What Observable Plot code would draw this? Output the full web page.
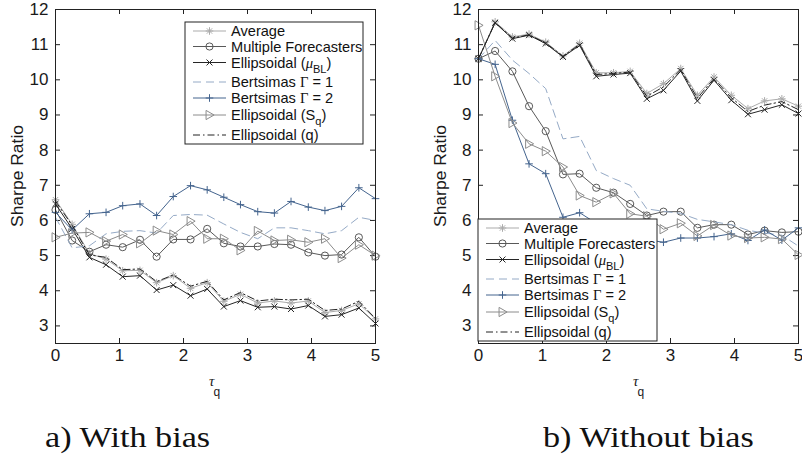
<!DOCTYPE html>
<html><head><meta charset="utf-8">
<script src="https://cdn.jsdelivr.net/npm/d3@7"></script>
<script src="https://cdn.jsdelivr.net/npm/@observablehq/plot@0.6"></script>
<style>
body{margin:0;background:#fff;}
#wrap{position:relative;width:802px;height:466px;overflow:hidden;background:#fff;}
.panel{position:absolute;top:0;}
.cap{position:absolute;top:422px;font-family:"Liberation Serif","Times New Roman",serif;font-size:30px;line-height:30px;color:#111;white-space:nowrap;transform-origin:left top;transform:scaleX(1.14);}
</style></head><body><div id="wrap"></div>
<script>
// ---------- data ----------
const tau = [0, 0.26, 0.53, 0.79, 1.05, 1.32, 1.58, 1.84, 2.11, 2.37, 2.63, 2.89, 3.16, 3.42, 3.68, 3.95, 4.21, 4.47, 4.74, 5];
const xTicks = [0, 1, 2, 3, 4, 5];
const yTicks = [3, 4, 5, 6, 7, 8, 9, 10, 11, 12];
const seriesNames = ["Average", "Multiple Forecasters", "Ellipsoidal (μBL)", "Bertsimas Γ = 1", "Bertsimas Γ = 2", "Ellipsoidal (Sq)", "Ellipsoidal (q)"];
const captions = ["a) With bias", "b) Without bias"];

// a) With bias
const biasAverage  = [6.59, 5.89, 5.06, 4.90, 4.57, 4.58, 4.23, 4.43, 4.07, 4.23, 3.70, 3.90, 3.65, 3.71, 3.65, 3.71, 3.38, 3.44, 3.63, 3.20];
const biasMultiple = [6.30, 5.43, 5.11, 5.31, 5.24, 5.45, 4.97, 5.46, 5.46, 5.76, 5.35, 5.26, 5.26, 5.33, 5.31, 5.09, 5.00, 5.03, 5.52, 4.97];
const biasMuBL     = [6.47, 5.76, 4.95, 4.74, 4.40, 4.43, 4.02, 4.16, 3.86, 4.05, 3.55, 3.72, 3.53, 3.55, 3.48, 3.58, 3.27, 3.32, 3.51, 3.07];
const biasGamma1   = [6.09, 5.22, 5.28, 5.62, 5.69, 5.71, 5.64, 6.14, 6.17, 6.15, 5.90, 5.66, 5.48, 5.79, 5.79, 5.71, 5.62, 5.71, 6.09, 6.00];
const biasGamma2   = [6.23, 5.73, 6.19, 6.23, 6.42, 6.47, 6.14, 6.68, 6.99, 6.87, 6.66, 6.45, 6.25, 6.21, 6.54, 6.38, 6.28, 6.40, 6.93, 6.62];
const biasSq       = [5.52, 5.64, 5.66, 5.41, 5.60, 5.35, 5.71, 5.60, 5.98, 5.48, 5.48, 5.15, 5.70, 5.43, 5.45, 5.38, 5.48, 4.93, 5.31, 5.00];
const biasQ        = [6.55, 5.86, 5.02, 4.95, 4.60, 4.62, 4.26, 4.45, 4.13, 4.27, 3.74, 3.95, 3.71, 3.76, 3.74, 3.76, 3.44, 3.48, 3.70, 3.21];

// b) Without bias
const noBiasAverage  = [10.60, 11.65, 11.22, 11.30, 11.07, 10.68, 11.04, 10.20, 10.20, 10.24, 9.61, 9.89, 10.32, 9.56, 10.08, 9.56, 9.18, 9.40, 9.46, 9.25];
const noBiasMultiple = [10.60, 10.82, 10.24, 9.25, 8.54, 7.31, 7.33, 6.93, 6.79, 6.47, 6.14, 6.25, 6.25, 5.79, 5.88, 5.88, 5.60, 5.71, 5.66, 5.68];
const noBiasMuBL     = [10.60, 11.62, 11.17, 11.27, 11.03, 10.65, 10.98, 10.10, 10.15, 10.19, 9.46, 9.70, 10.25, 9.40, 9.99, 9.42, 9.02, 9.15, 9.29, 9.04];
const noBiasGamma1   = [10.60, 11.12, 10.56, 10.18, 9.75, 8.32, 8.39, 7.42, 7.19, 7.00, 6.33, 6.26, 6.20, 6.03, 5.96, 5.88, 5.72, 5.64, 5.58, 5.27];
const noBiasGamma2   = [10.60, 10.44, 8.85, 7.61, 7.33, 6.09, 6.22, 5.92, 5.72, 5.58, 5.45, 5.38, 5.50, 5.50, 5.54, 5.62, 5.43, 5.73, 5.44, 5.79];
const noBiasSq       = [11.55, 10.10, 8.77, 8.18, 7.97, 7.52, 6.71, 6.52, 6.77, 6.19, 6.12, 5.75, 5.92, 5.56, 5.87, 5.57, 5.50, 5.52, 5.47, 5.02];
const noBiasQ        = [10.60, 11.63, 11.19, 11.28, 11.05, 10.67, 11.01, 10.15, 10.18, 10.22, 9.53, 9.80, 10.29, 9.48, 10.04, 9.49, 9.10, 9.28, 9.38, 9.15];

// ---------- styles ----------
const fontSans = '"Liberation Sans", Arial, Helvetica, sans-serif';
const asterisk8 = {draw(c, size) { const r = Math.sqrt(size / Math.PI), d = r * Math.SQRT1_2;
  c.moveTo(-r, 0); c.lineTo(r, 0); c.moveTo(0, -r); c.lineTo(0, r);
  c.moveTo(-d, -d); c.lineTo(d, d); c.moveTo(-d, d); c.lineTo(d, -d); }};
const plusS = {draw(c, size) { const r = Math.sqrt(size / Math.PI);
  c.moveTo(-r, 0); c.lineTo(r, 0); c.moveTo(0, -r); c.lineTo(0, r); }};
const timesS = {draw(c, size) { const r = Math.sqrt(size / Math.PI) * Math.SQRT1_2;
  c.moveTo(-r, -r); c.lineTo(r, r); c.moveTo(-r, r); c.lineTo(r, -r); }};
const circleS = {draw(c, size) { const r = Math.sqrt(size / Math.PI); c.moveTo(r, 0); c.arc(0, 0, r, 0, 2 * Math.PI); }};
const triRight = {draw(c, size) { const r = Math.sqrt(size / Math.PI);
  c.moveTo(r, 0); c.lineTo(-r * 0.75, -r); c.lineTo(-r * 0.75, r); c.closePath(); }};

const styles = [
  {color: "#ababab", symbol: asterisk8, r: 3.8},
  {color: "#595959", symbol: circleS, r: 3.6},
  {color: "#262626", symbol: timesS, r: 4.2},
  {color: "#95aac6", dash: "8,5"},
  {color: "#44648e", symbol: plusS, r: 3.8},
  {color: "#8c8c8c", symbol: triRight, r: 4.6},
  {color: "#222222", dash: "7,3,1.5,3"}
];
const legendParts = [
  [["Average"]],
  [["Multiple Forecasters"]],
  [["Ellipsoidal ("], ["μ", "mu"], ["BL", "sub"], [")", "up"]],
  [["Bertsimas "], ["Γ", "greek"], [" = 1"]],
  [["Bertsimas "], ["Γ", "greek"], [" = 2"]],
  [["Ellipsoidal (S"], ["q", "sub"], [")", "up"]],
  [["Ellipsoidal (q)"]]
];

const W = 401, H = 400, MT = 9, MB = 57;

function panel(seriesValues, o) {
  const FW = W - o.ml - o.mr, FH = H - MT - MB;
  const marks = [
    Plot.axisX({ticks: xTicks, tickSize: 0, tickPadding: 5, label: null, tickFormat: d => d}),
    Plot.axisY({ticks: yTicks, tickSize: 0, tickPadding: 7, label: null, tickFormat: d => d}),
    Plot.tickX(xTicks, {x: d => d, insetTop: FH - 5, stroke: "#222"}),
    Plot.tickX(xTicks, {x: d => d, insetBottom: FH - 5, stroke: "#222"}),
    Plot.tickY(yTicks, {y: d => d, insetRight: FW - 5, stroke: "#222"}),
    Plot.tickY(yTicks, {y: d => d, insetLeft: FW - 5, stroke: "#222"})
  ];
  seriesValues.forEach((vals, k) => {
    const s = styles[k];
    const rows = tau.map((t, i) => ({tau: t, v: vals[i], name: seriesNames[k]}));
    marks.push(Plot.line(rows, {x: "tau", y: "v", stroke: s.color, strokeWidth: 1, strokeDasharray: s.dash || null}));
    if (s.symbol) marks.push(Plot.dot(rows, {x: "tau", y: "v", symbol: s.symbol, r: s.r, stroke: s.color, fill: "none", strokeWidth: 1}));
  });
  marks.push(Plot.frame({stroke: "#222"}));
  const svg = Plot.plot({
    width: W, height: H, marginLeft: o.ml, marginRight: o.mr, marginTop: MT, marginBottom: MB,
    x: {domain: [0, 5]}, y: {domain: [2.5, 12]},
    style: {fontFamily: fontSans, fontSize: "17px", color: "#1a1a1a", background: "transparent", overflow: "visible"},
    marks
  });
  const sel = d3.select(svg);
  // y label
  sel.append("text").attr("transform", `translate(${o.ylx},${MT + FH / 2}) rotate(-90) scale(1.06,1)`)
    .attr("text-anchor", "middle").attr("font-family", fontSans).attr("font-size", "16.5px").attr("fill", "#1a1a1a").text("Sharpe Ratio");
  // x label τ_q
  const xl = sel.append("text").attr("x", o.xlx).attr("y", 386).attr("fill", "#1a1a1a").attr("text-anchor", "start");
  xl.append("tspan").attr("font-family", '"Liberation Serif", serif').attr("font-style", "italic").attr("font-size", "15px").text("τ");
  xl.append("tspan").attr("font-family", fontSans).attr("font-size", "12px").attr("dy", 10).attr("dx", -1).text("q");
  // legend
  const g = sel.append("g").attr("transform", `translate(${o.lgx},${o.lgy})`).attr("text-anchor", "start");
  g.append("rect").attr("width", o.lgw).attr("height", 122).attr("fill", "white").attr("stroke", "#222");
  const rowsY = [9, 24.5, 40.5, 60, 76, 93, 113];
  styles.forEach((s, k) => {
    const y = rowsY[k];
    g.append("line").attr("x1", 8).attr("x2", 41).attr("y1", y).attr("y2", y)
      .attr("stroke", s.color).attr("stroke-width", 1).attr("stroke-dasharray", s.dash || null);
    if (s.symbol) g.append("path").attr("transform", `translate(24.5,${y})`)
      .attr("d", d3.symbol(s.symbol, s.r * s.r * Math.PI)()).attr("fill", "none").attr("stroke", s.color);
    const t = g.append("text").attr("x", 46).attr("y", y + 5.3).attr("text-anchor", "start")
      .attr("font-family", fontSans).attr("font-size", "14.6px").attr("fill", "#111");
    legendParts[k].forEach(([txt, kind]) => {
      const sp = t.append("tspan").text(txt);
      if (kind === "mu") sp.attr("font-family", '"Liberation Serif", serif').attr("font-style", "italic");
      if (kind === "greek") sp.attr("font-family", '"Liberation Serif", serif');
      if (kind === "sub") sp.attr("font-size", "11px").attr("dy", 5);
      if (kind === "up") sp.attr("dy", -5);
    });
  });
  return svg;
}

const wrap = document.getElementById("wrap");
const left = document.createElement("div"); left.className = "panel"; left.style.left = "0px";
left.appendChild(panel([biasAverage, biasMultiple, biasMuBL, biasGamma1, biasGamma2, biasSq, biasQ],
  {ml: 55, mr: 26, ylx: 23, xlx: 209, lgx: 185, lgy: 22, lgw: 178}));
const right = document.createElement("div"); right.className = "panel"; right.style.left = "401px";
right.appendChild(panel([noBiasAverage, noBiasMultiple, noBiasMuBL, noBiasGamma1, noBiasGamma2, noBiasSq, noBiasQ],
  {ml: 77, mr: 4, ylx: 45, xlx: 232, lgx: 77, lgy: 219, lgw: 179}));
wrap.appendChild(left); wrap.appendChild(right);
captions.forEach((c, i) => {
  const d = document.createElement("div"); d.className = "cap";
  d.style.left = (i === 0 ? 45 : 543) + "px"; d.textContent = c; wrap.appendChild(d);
});
</script></body></html>
